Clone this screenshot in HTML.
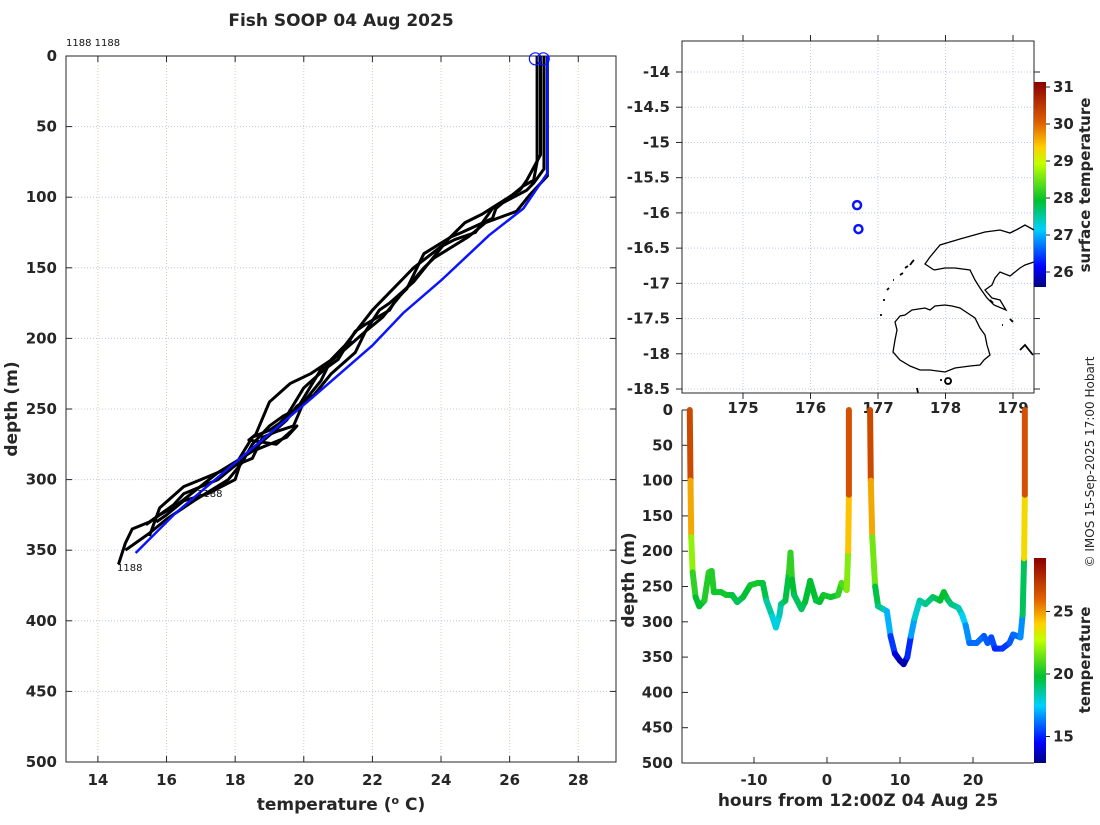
<!DOCTYPE html>
<html><head><meta charset="utf-8"><style>
body{margin:0;background:#fff;width:1100px;height:820px;overflow:hidden}
svg text{font-family:"DejaVu Sans","Liberation Sans",sans-serif}
.tk{font-size:15px;font-weight:bold;fill:#262626}
.lb{font-size:17px;font-weight:bold;fill:#262626}
</style></head><body>
<svg id="s" width="1100" height="820" viewBox="0 0 1100 820" xmlns="http://www.w3.org/2000/svg">
<defs>
<linearGradient id="jet1" x1="0" y1="1" x2="0" y2="0">
<stop offset="0" stop-color="#00007f"/><stop offset="0.1" stop-color="#0000ff"/><stop offset="0.28" stop-color="#00d0ff"/><stop offset="0.42" stop-color="#00c030"/><stop offset="0.6" stop-color="#c0ff00"/><stop offset="0.68" stop-color="#ffd000"/><stop offset="0.8" stop-color="#e06000"/><stop offset="1" stop-color="#8a0000"/>
</linearGradient>
</defs>
<text x="341" y="26" text-anchor="middle" class="lb">Fish SOOP 04 Aug 2025</text>
<g id="left"></g>
<g id="map"></g>
<g id="ts"></g>
<text transform="translate(1094,462) rotate(-90)" text-anchor="middle" font-size="12" fill="#262626">© IMOS 15-Sep-2025 17:00 Hobart</text>
</svg>
<script>
// ---- data: profile plot ----
const profTempTicks=[14,16,18,20,22,24,26,28];
const profDepthTicks=[0,50,100,150,200,250,300,350,400,450,500];
const prof1T=[26.8,26.8,26.7,26.4,26.0,25.6,25.5,24.6,24.3,23.5,23.3,23.0,22.7,22.5,21.8,21.5,21.0,20.6,20.0,19.5,19.3,19.0,18.5,18.2,18.0,17.5,16.5,16.2,15.5,15.0,14.8,14.6];
const prof1D=[0,75,88,92,100,108,115,125,128,140,150,165,172,180,190,195,215,222,235,255,260,265,270,282,290,300,310,318,330,335,345,360];
const prof2T=[27.0,27.0,26.7,26.5,25.8,25.5,25.0,24.4,24.0,23.2,23.0,22.2,22.0,21.2,20.8,20.5,20.0,19.7,19.2,18.8,18.5,17.5,17.0,16.5,15.8,15.5];
const prof2D=[0,80,90,95,104,108,125,130,135,150,155,175,180,205,215,230,245,262,266,270,285,295,300,305,320,340];
const prof3T=[27.1,27.1,26.6,26.2,25.3,24.8,24.0,23.8,23.5,22.8,22.3,21.8,21.5,20.8,20.3,19.8,19.5,18.7,18.2,18.0,17.2,16.5,16.0,15.7];
const prof3D=[0,85,98,110,118,128,140,143,150,170,185,195,210,225,240,248,258,275,285,300,310,315,325,330];
const prof4T=[26.9,26.9,26.5,26.3,25.2,24.7,24.2,23.6,23.2,22.5,22.2,21.8,21.0,20.5,19.8,19.4,19.0,18.5,18.2,17.8,16.8,16.0,15.5,14.8];
const prof4D=[0,70,88,95,112,118,130,148,160,175,180,195,212,222,250,255,262,275,288,300,315,328,338,350];
const prof5T=[21.4,21.0,20.2,19.6,19.0,18.6,18.4,19.2,19.8,19.5,18.5,17.5,16.3,15.8,15.4];
const prof5D=[202,212,225,232,245,268,272,275,262,270,280,295,318,325,332];
const meanT=[27.1,27.1,26.4,25.4,24.0,22.9,22.0,20.2,18.1,16.25,15.1];
const meanD=[0,83,108,127,159,182,205,243,286,324,352];
// ---- data: map ----
const lonTicks=[175,176,177,178,179];
const latTicks=[-14,-14.5,-15,-15.5,-16,-16.5,-17,-17.5,-18,-18.5];
const sstTicks=[26,27,28,29,30,31];
const stnLon=[176.69,176.71];
const stnLat=[-15.89,-16.23];
// ---- data: depth-time ----
const hourTicks=[-10,0,10,20];
const tsDepthTicks=[0,50,100,150,200,250,300,350,400,450,500];
const tempTicks=[15,20,25];
const seg1H=[-18.8,-18.7,-18.6,-18.4,-18,-17.5,-16.8,-16.2,-15.8,-15.5,-14.5,-13.8,-13,-12.3,-11.5,-10.5,-9.5,-8.8,-8.3,-7.5,-7,-6.5,-6.3,-5.7,-5.2,-5,-4.8,-4.5,-3.5,-3,-2.3,-1.5,-1,-0.5,0.5,1.5,2,2.7,2.9,3,3];
const seg1D=[0,100,180,230,265,278,270,230,228,258,258,262,262,272,265,248,245,245,270,292,308,290,275,270,230,202,240,262,282,272,242,270,272,262,265,262,245,255,200,120,0];
const seg1T=[27,26.5,23,21,20,19.5,20,20.5,20.5,20,20,20,20,19,19.5,20,20,20,19,18,17.5,18,18.5,19,20,21,20,19.5,19,19.5,20,19.5,19.5,20,20,20,21,21,22.5,26,27];
const seg2H=[5.9,6,6.2,6.6,7,7.7,8.2,8.7,9.3,10,10.5,11,11.5,12,12.7,13.5,14.5,15.5,16,16.5,17,18,18.5,19,19.5,20.5,21.5,22,22.5,23,24,25,25.5,26.5,26.8,27,27.1,27.1];
const seg2D=[0,100,180,250,278,282,285,320,345,355,360,350,320,295,270,275,265,270,258,268,275,280,290,305,330,330,320,330,322,338,338,330,318,322,290,210,120,0];
const seg2T=[27,26.5,23,20,19,18.5,18,16,14.5,13.5,13,14,16,17.5,18.5,18.5,19,19.5,20,19.5,19,18.5,18,17,16,16,16,15.5,16,15,15,15.5,16,16,17,21.5,26,27];

const NS='http://www.w3.org/2000/svg';
function mk(tag,attrs,parent){const e=document.createElementNS(NS,tag);for(const k in attrs)e.setAttribute(k,attrs[k]);parent.appendChild(e);return e;}
function jet(f){f=Math.max(0,Math.min(1,f));const st=[[0,0,0,127],[0.1,0,0,255],[0.28,0,208,255],[0.42,0,192,48],[0.6,192,255,0],[0.68,255,208,0],[0.8,224,96,0],[1,138,0,0]];
for(let i=1;i<st.length;i++){if(f<=st[i][0]){const a=st[i-1],b=st[i],t=(f-a[0])/(b[0]-a[0]);return 'rgb('+[1,2,3].map(j=>Math.round(a[j]+(b[j]-a[j])*t)).join(',')+')';}}return 'rgb(138,0,0)';}

// ---------- LEFT ----------
(function(){
const g=document.getElementById('left');
const X0=66,X1=616,Y0=56,Y1=762;
const xs=t=>X0+(t-13.07)/(29.1-13.07)*(X1-X0);
const ys=d=>Y0+d/500*(Y1-Y0);
profTempTicks.forEach(t=>{const l=mk('line',{x1:xs(t),x2:xs(t),y1:Y0,y2:Y1,stroke:'#e6c8b0','stroke-dasharray':'1,2','stroke-width':1},g);

const tk=mk('line',{x1:xs(t),x2:xs(t),y1:Y0,y2:Y0+6,stroke:'#262626'},g);
const tk2=mk('line',{x1:xs(t),x2:xs(t),y1:Y1,y2:Y1-6,stroke:'#262626'},g);
const tx=mk('text',{x:xs(t),y:Y1+23,'text-anchor':'middle',class:'tk'},g);tx.textContent=t;});
profDepthTicks.forEach(d=>{const l=mk('line',{x1:X0,x2:X1,y1:ys(d),y2:ys(d),stroke:'#c0c8ec','stroke-dasharray':'1,2'},g);

const tk=mk('line',{x1:X0,x2:X0+6,y1:ys(d),y2:ys(d),stroke:'#262626'},g);
const tk2=mk('line',{x1:X1,x2:X1-6,y1:ys(d),y2:ys(d),stroke:'#262626'},g);
const tx=mk('text',{x:X0-9,y:ys(d)+5,'text-anchor':'end',class:'tk'},g);tx.textContent=d;});
const fr=mk('rect',{x:X0,y:Y0,width:X1-X0,height:Y1-Y0,fill:'none',stroke:'#262626'},g);
[[prof1T,prof1D],[prof2T,prof2D],[prof3T,prof3D],[prof4T,prof4D],[prof5T,prof5D]].forEach((p,i)=>{
const pl=mk('polyline',{points:p[0].map((t,j)=>xs(t)+','+ys(p[1][j])).join(' '),fill:'none',stroke:'#000','stroke-width':3,'stroke-linejoin':'round'},g);
});
const ml=mk('polyline',{points:meanT.map((t,j)=>xs(t)+','+ys(meanD[j])).join(' '),fill:'none',stroke:'#0a14ff','stroke-width':2.5},g);

[26.75,26.98].forEach(t=>{const c=mk('circle',{cx:xs(t),cy:ys(2),r:6,fill:'none',stroke:'#0a14ff','stroke-width':1.2},g);});
[[66,46,'1188 1188'],[197,497,'1188'],[117,571,'1188']].forEach(a=>{const t=mk('text',{x:a[0],y:a[1],'font-size':10,fill:'#111'},g);t.textContent=a[2];});
const xl=mk('text',{x:341,y:810,'text-anchor':'middle',class:'lb'},g);xl.innerHTML='temperature (<tspan font-size="11" dy="-6">o</tspan><tspan dy="6"> C)</tspan>';
const yl=mk('text',{transform:'translate(17,409) rotate(-90)','text-anchor':'middle',class:'lb'},g);yl.textContent='depth (m)';
})();

// ---------- MAP ----------
(function(){
const g=document.getElementById('map');
const X0=682,X1=1034,Y0=41,Y1=393;
const xs=l=>743+(l-175)*67.5;
const ys=l=>72+(-14-l)*(317/4.5);
lonTicks.forEach(l=>{const a=mk('line',{x1:xs(l),x2:xs(l),y1:Y0,y2:Y1,stroke:'#c0c8ec','stroke-dasharray':'1,2'},g);
const t1=mk('line',{x1:xs(l),x2:xs(l),y1:Y0,y2:Y0-6,stroke:'#262626'},g);
const t2=mk('line',{x1:xs(l),x2:xs(l),y1:Y1,y2:Y1+6,stroke:'#262626'},g);
const tx=mk('text',{x:xs(l),y:Y1+20,'text-anchor':'middle',class:'tk'},g);tx.textContent=l;});
latTicks.forEach(l=>{const a=mk('line',{x1:X0,x2:X1,y1:ys(l),y2:ys(l),stroke:'#c0c8ec','stroke-dasharray':'1,2'},g);
const t1=mk('line',{x1:X0,x2:X0-6,y1:ys(l),y2:ys(l),stroke:'#262626'},g);
const t2=mk('line',{x1:X1,x2:X1+6,y1:ys(l),y2:ys(l),stroke:'#262626'},g);
const tx=mk('text',{x:X0-12,y:ys(l)+5,'text-anchor':'end',class:'tk'},g);tx.textContent=l;});
const vl=mk('path',{d:'M895,322 L900,316 L905,315 L912,310 L925,308 L930,310 L935,306 L945,305 L952,306 L960,308 L966,312 L975,318 L980,328 L985,335 L987,345 L990,355 L984,360 L980,365 L970,366 L955,368 L945,372 L930,370 L920,370 L910,366 L900,360 L893,352 L895,340 L897,330 Z',fill:'none',stroke:'#000','stroke-width':1.3},g);
const vn=mk('path',{d:'M934,270 L925,264 L930,257 L940,245 L960,239 L985,232 L1000,230 L1010,233 L1018,229 L1025,225 L1034,230 M1034,262 L1025,265 L1020,268 L1010,276 L1000,272 L995,278 L992,285 L985,290 L992,298 L1000,300 L1006,310 L994,305 L987,298 L980,288 L975,280 L970,270 L955,268 L945,268 L934,270',fill:'none',stroke:'#000','stroke-width':1.3},g);
const is=mk('path',{d:'M880,315 l2,0 M883,300 l2,0 M887,290 l2,-2 M893,280 l1,0 M900,275 l3,-2 M905,268 l3,-2 M910,265 l3,-4 M912,262 l2,-2 M1002,325 l1,0 M1020,350 l5,-5 l8,10 M940,380 l2,0 M948,378 a3,3 0 1,0 0.1,0 M917,388 l1,5 M990,300 l3,3 M1010,319 l3,3',fill:'none',stroke:'#000','stroke-width':1.8},g);
const fr=mk('rect',{x:X0,y:Y0,width:X1-X0,height:Y1-Y0,fill:'none',stroke:'#262626'},g);
stnLon.forEach((l,i)=>{const c=mk('circle',{cx:xs(l),cy:ys(stnLat[i]),r:4,fill:'none',stroke:'#0a14ff','stroke-width':2.5},g);});
const cb=mk('rect',{x:1034,y:82,width:12,height:205,fill:'url(#jet1)'},g);
const cy=v=>272-(v-26)*37;
sstTicks.forEach(v=>{const t=mk('line',{x1:1046,x2:1050,y1:cy(v),y2:cy(v),stroke:'#262626'},g);
const tx=mk('text',{x:1053,y:cy(v)+5,class:'tk','font-size':'14'},g);tx.textContent=v;});
const tl=mk('text',{transform:'translate(1090,185) rotate(-90)','text-anchor':'middle',class:'tk'},g);tl.textContent='surface temperature';
})();

// ---------- DEPTH-TIME ----------
(function(){
const g=document.getElementById('ts');
const X0=682,X1=1034,Y0=410,Y1=763;
const xs=h=>827+h*7.3;
const ys=d=>Y0+d/500*(Y1-Y0);
const cf=t=>(t-12.8)/(29.3-12.8);
hourTicks.forEach(h=>{const t=mk('line',{x1:xs(h),x2:xs(h),y1:Y1,y2:Y1-6,stroke:'#262626'},g);
const tx=mk('text',{x:xs(h),y:Y1+22,'text-anchor':'middle',class:'tk'},g);tx.textContent=h;});
tsDepthTicks.forEach(d=>{const t=mk('line',{x1:X0,x2:X0+6,y1:ys(d),y2:ys(d),stroke:'#262626'},g);
const tx=mk('text',{x:X0-9,y:ys(d)+5,'text-anchor':'end',class:'tk'},g);tx.textContent=d;});
const ax=mk('path',{d:`M${X0},${Y0} L${X0},${Y1} L${X1},${Y1}`,fill:'none',stroke:'#262626'},g);
[[seg1H,seg1D,seg1T],[seg2H,seg2D,seg2T]].forEach((s,si)=>{
for(let i=1;i<s[0].length;i++){
const l=mk('line',{x1:xs(s[0][i-1]),y1:ys(s[1][i-1]),x2:xs(s[0][i]),y2:ys(s[1][i]),stroke:jet(cf((s[2][i-1]+s[2][i])/2)),'stroke-width':6,'stroke-linecap':'round'},g);

}});
const cb=mk('rect',{x:1034,y:558,width:12,height:205,fill:'url(#jet1)'},g);
const cy=v=>674-(v-20)*12.5;
tempTicks.forEach(v=>{const t=mk('line',{x1:1046,x2:1050,y1:cy(v),y2:cy(v),stroke:'#262626'},g);
const tx=mk('text',{x:1053,y:cy(v)+5,class:'tk','font-size':'14'},g);tx.textContent=v;});
const tl=mk('text',{transform:'translate(1090,660) rotate(-90)','text-anchor':'middle',class:'tk'},g);tl.textContent='temperature';
const xl=mk('text',{x:858,y:806,'text-anchor':'middle',class:'lb'},g);xl.textContent='hours from 12:00Z 04 Aug 25';
const yl=mk('text',{transform:'translate(634,580) rotate(-90)','text-anchor':'middle',class:'lb'},g);yl.textContent='depth (m)';
})();
</script>
</body></html>
